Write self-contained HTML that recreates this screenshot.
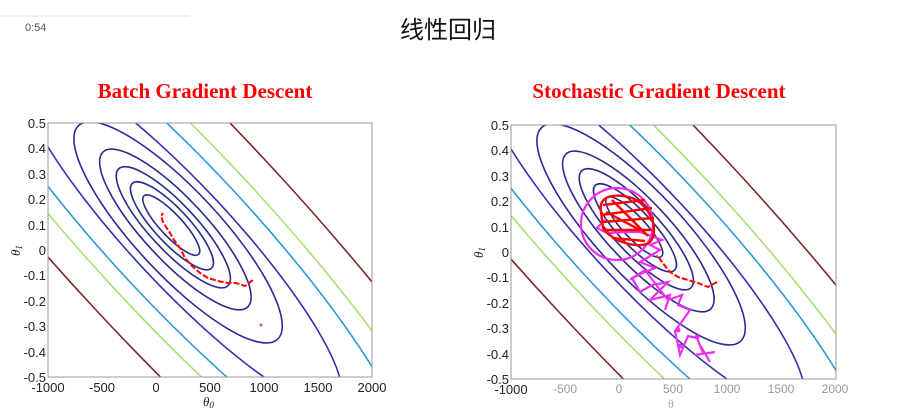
<!DOCTYPE html>
<html><head><meta charset="utf-8"><style>
html,body{margin:0;padding:0;background:#fff;overflow:hidden;width:897px;height:420px;}
#w{width:897px;height:420px;overflow:hidden;position:relative;}
svg{display:block;}
</style></head><body><div id="w">
<svg width="897" height="420" viewBox="0 0 897 420" xmlns="http://www.w3.org/2000/svg">
<defs>
<clipPath id="c1"><rect x="48" y="123" width="324" height="254"/></clipPath>
<clipPath id="c2"><rect x="511" y="125" width="325" height="254"/></clipPath>
<g id="cont" fill="none" stroke-width="1.6">
 <g transform="rotate(47)">
  <ellipse cx="-4" rx="40" ry="11" stroke="#2a2a8c"/>
  <ellipse cx="-3" rx="58" ry="17" stroke="#2a2a8c"/>
  <ellipse cx="-1" rx="80" ry="23" stroke="#2a2a8c"/>
  <ellipse cx="2" rx="106" ry="31" stroke="#2a2a8c"/>
  <ellipse cx="6" rx="146" ry="42" stroke="#2a2a9a"/>
  <ellipse cx="10" rx="230" ry="50" stroke="#3030b0"/>
  <ellipse cx="10" rx="330" ry="69" stroke="#2a9ad8"/>
  <ellipse cx="10" rx="420" ry="85" stroke="#a8e070"/>
  <ellipse cx="10" rx="560" ry="113" stroke="#7a2a2a"/>
 </g>
</g>
</defs>
<line x1="0" y1="16" x2="190" y2="16" stroke="#e0e0e0" stroke-width="1"/>
<text x="25" y="31" font-family="Liberation Sans, sans-serif" font-size="11" fill="#555">0:54</text>
<text x="448" y="38" text-anchor="middle" font-family="Liberation Sans, Noto Sans CJK SC, sans-serif" font-size="24" fill="#111">线性回归</text>
<text x="205" y="98" text-anchor="middle" font-family="Liberation Serif, serif" font-weight="bold" font-size="21" fill="#f00">Batch Gradient Descent</text>
<text x="659" y="98" text-anchor="middle" font-family="Liberation Serif, serif" font-weight="bold" font-size="21" fill="#f00">Stochastic Gradient Descent</text>

<!-- plot 1 -->
<g clip-path="url(#c1)"><use href="#cont" transform="translate(174,228)"/></g>
<rect x="48" y="123" width="324" height="254" fill="none" stroke="#999" stroke-width="1"/>
<polyline points="253,280 245,286 236,283 228,283 218,281 208,278 200,273 192,266 185,258 180,248 174,240 170,233 166,227 163,222 161,216 163,213" fill="none" stroke="#f00" stroke-width="2" stroke-dasharray="6,2"/>
<circle cx="261" cy="325" r="1.5" fill="#d040d0"/>
<g font-family="Liberation Sans, sans-serif" font-size="13" fill="#222" text-anchor="end">
<text x="46" y="128">0.5</text><text x="46" y="153">0.4</text><text x="46" y="179">0.3</text><text x="46" y="204">0.2</text><text x="46" y="230">0.1</text><text x="46" y="255">0</text><text x="46" y="280">-0.1</text><text x="46" y="306">-0.2</text><text x="46" y="331">-0.3</text><text x="46" y="357">-0.4</text><text x="46" y="382">-0.5</text>
</g>
<g font-family="Liberation Sans, sans-serif" font-size="13" fill="#222" text-anchor="middle">
<text x="48" y="392">-1000</text><text x="102" y="392">-500</text><text x="156" y="392">0</text><text x="210" y="392">500</text><text x="264" y="392">1000</text><text x="318" y="392">1500</text><text x="372" y="392">2000</text>
</g>
<text x="203" y="406" font-family="Liberation Serif, serif" font-style="italic" font-size="13" fill="#222">θ<tspan font-size="9" dy="2">0</tspan></text>
<text transform="translate(20,256) rotate(-90)" font-family="Liberation Serif, serif" font-style="italic" font-size="13" fill="#222">θ<tspan font-size="9" dy="2">1</tspan></text>

<!-- plot 2 -->
<g clip-path="url(#c2)"><use href="#cont" transform="translate(637,230)"/></g>
<rect x="511" y="125" width="325" height="254" fill="none" stroke="#999" stroke-width="1"/>
<polyline points="717,282 708,287 698,283 688,280 678,277 670,272 662,262 657,255" fill="none" stroke="#f00" stroke-width="2" stroke-dasharray="6,2"/>
<g fill="none" stroke="#ee30ee" stroke-width="2.2">
<circle cx="617" cy="224" r="36"/>
<polyline points="703,353 697,338 688,336 680,355 675,331 683,320 690,310 678,305 682,295 668,300 660,290 668,282 652,285 640,292 632,278 645,272 655,268 640,262 660,250 650,245 662,240 640,232 628,232 607,233 597,228 605,220"/>
<polyline points="630,280 645,270 660,290 650,300 670,295 665,310"/>
<line x1="695" y1="355" x2="715" y2="352"/><line x1="700" y1="345" x2="710" y2="362"/>
</g>
<circle cx="680" cy="346" r="2.5" fill="#ee30ee"/><circle cx="697" cy="337" r="2.5" fill="#ee30ee"/><circle cx="678" cy="330" r="2.5" fill="#ee30ee"/>
<g stroke="#f00" stroke-width="2.4" fill="none">
<path d="M601,212 C598,195 615,193 632,198 C650,205 660,230 650,242 C640,250 612,242 603,228 Z"/>
<path d="M603,205 L645,200 M601,215 L652,208 M602,222 L654,218 M605,230 L652,230 M612,238 L645,241 M606,212 L640,230 M612,200 L648,236"/>
</g>
<g font-family="Liberation Sans, sans-serif" font-size="13" fill="#222" text-anchor="end">
<text x="509" y="130">0.5</text><text x="509" y="155">0.4</text><text x="509" y="181">0.3</text><text x="509" y="206">0.2</text><text x="509" y="232">0.1</text><text x="509" y="257">0</text><text x="509" y="282">-0.1</text><text x="509" y="308">-0.2</text><text x="509" y="333">-0.3</text><text x="509" y="359">-0.4</text><text x="509" y="384">-0.5</text>
</g>
<g font-family="Liberation Sans, sans-serif" font-size="12" fill="#999" text-anchor="middle">
<text x="511" y="394" fill="#222" font-size="13">-1000</text><text x="565" y="393">-500</text><text x="619" y="393">0</text><text x="673" y="393">500</text><text x="727" y="393">1000</text><text x="781" y="393">1500</text><text x="835" y="393">2000</text>
</g>
<text x="668" y="408" font-family="Liberation Serif, serif" font-size="12" fill="#aaa">θ</text>
<text transform="translate(483,258) rotate(-90)" font-family="Liberation Serif, serif" font-style="italic" font-size="13" fill="#222">θ<tspan font-size="9" dy="2">1</tspan></text>
</svg>
</div></body></html>
